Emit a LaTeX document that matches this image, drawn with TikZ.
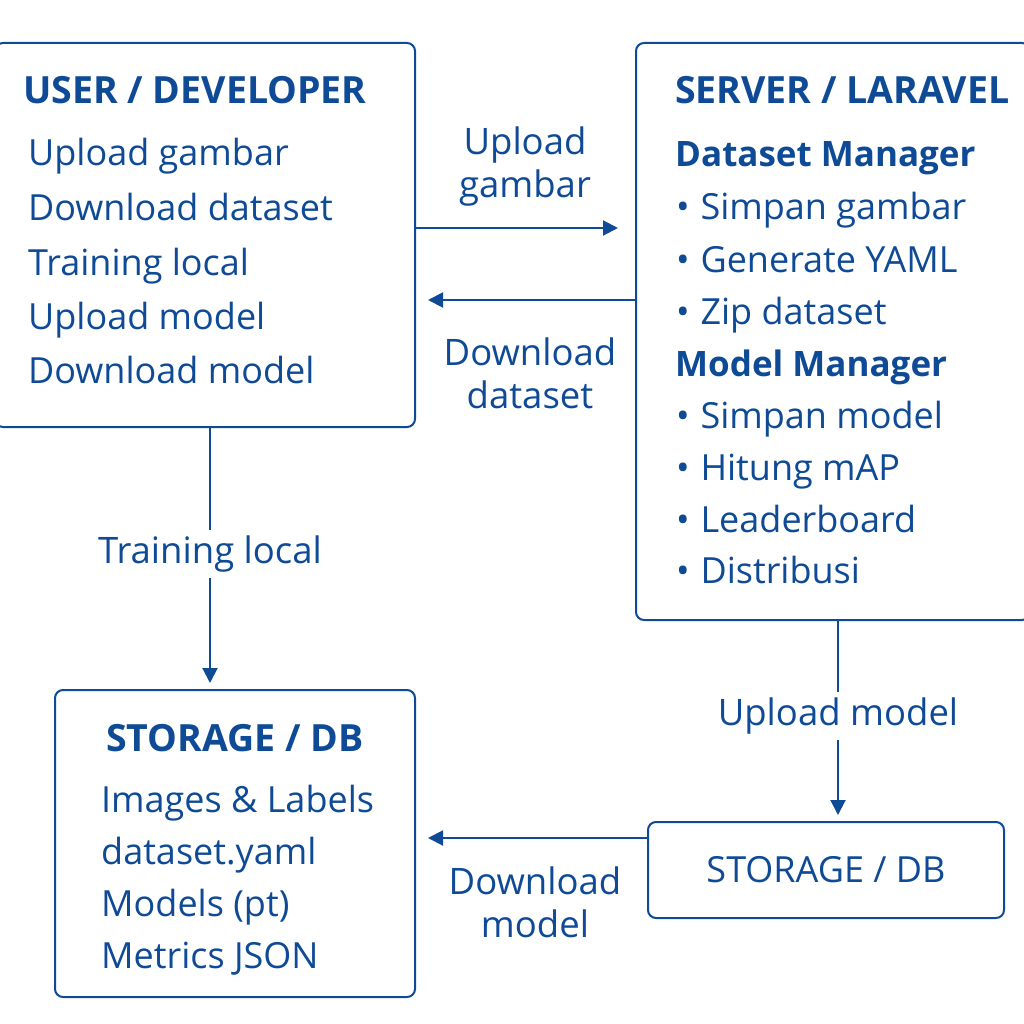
\documentclass[tikz,border=0pt]{standalone}
\usepackage{fontspec}
\setmainfont{Open Sans}
\usetikzlibrary{arrows.meta}
\definecolor{navy}{RGB}{14,74,150}

\begin{document}
\begin{tikzpicture}[x=1pt, y=-1pt,
	box/.style = {draw=navy, line width=2pt, rounded corners=8pt, inner sep=0pt},
	txt/.style = {text=navy, font=\fontsize{36}{40}\selectfont, inner sep=0pt, anchor=base west},
	ttl/.style = {txt, font=\fontsize{37.5}{40}\selectfont\bfseries},
	sub/.style = {txt, font=\fontsize{35}{40}\selectfont\bfseries},
	lbl/.style = {text=navy, font=\fontsize{36.5}{43}\selectfont, align=center, inner sep=2pt},
	flow/.style = {draw=navy, line width=2pt, -{Triangle[length=15pt, width=15pt]}}]
	\useasboundingbox (0, 0) rectangle (1024, 1024);

	% boxes
	\node[box, minimum width=420, minimum height=384] (user) at (205, 235) {};
	\node[box, minimum width=394, minimum height=577] (server) at (833, 331.5) {};
	\node[box, minimum width=360, minimum height=307] (store) at (235, 843.5) {};
	\node[box, minimum width=356, minimum height=96] (storeR) at (826, 870) {};

	% user / developer
	\node[ttl] (userT) at (23, 104) {USER / DEVELOPER};
	\node[txt] (u1) at (28, 166) {Upload gambar};
	\node[txt] (u2) at (28, 221) {Download dataset};
	\node[txt] (u3) at (28, 275) {Training local};
	\node[txt] (u4) at (28, 329) {Upload model};
	\node[txt] (u5) at (28, 383) {Download model};

	% server / laravel
	\node[ttl] (serverT) at (675, 104) {SERVER / LARAVEL};
	\node[sub] (dm) at (675, 167) {Dataset Manager};
	\node[txt] (d1) at (676, 220) {•\hspace{0.3em}Simpan gambar};
	\node[txt] (d2) at (676, 272) {•\hspace{0.3em}Generate YAML};
	\node[txt] (d3) at (676, 324) {•\hspace{0.3em}Zip dataset};
	\node[sub] (mm) at (675, 376) {Model Manager};
	\node[txt] (m1) at (676, 428) {•\hspace{0.3em}Simpan model};
	\node[txt] (m2) at (676, 480) {•\hspace{0.3em}Hitung mAP};
	\node[txt] (m3) at (676, 532) {•\hspace{0.3em}Leaderboard};
	\node[txt] (m4) at (676, 583) {•\hspace{0.3em}Distribusi};

	% storage / db
	\node[ttl, anchor=base] (storeT) at (235, 751) {STORAGE / DB};
	\node[txt] (s1) at (101, 812) {Images \& Labels};
	\node[txt] (s2) at (101, 864) {dataset.yaml};
	\node[txt] (s3) at (101, 916) {Models (pt)};
	\node[txt] (s4) at (101, 968) {Metrics JSON};
	\node[txt, anchor=center] (storeRT) at (storeR.center) {STORAGE / DB};

	% connectors
	\coordinate (upEnd) at (618, 228);
	\coordinate (dsEnd) at (428, 300);
	\coordinate (trEnd) at (210, 683);
	\coordinate (umEnd) at (838, 815);
	\coordinate (dmEnd) at (428, 838);
	\draw[flow] (user.east |- upEnd) -- (upEnd);
	\draw[flow] (server.west |- dsEnd) -- (dsEnd);
	\draw[flow] (user.south -| trEnd) -- node[fill=white, lbl, pos=0.495, inner ysep=6pt] (trL) {Training local} (trEnd);
	\draw[flow] (server.south -| umEnd) -- node[fill=white, lbl, pos=0.49, inner ysep=6pt] (umL) {Upload model} (umEnd);
	\draw[flow] (storeR.west |- dmEnd) -- (dmEnd);

	\node[lbl] (upL) at (525, 167) {Upload\\gambar};
	\node[lbl] (dsL) at (530, 373) {Download\\dataset};
	\node[lbl] (dmL) at (535, 902) {Download\\model};
\end{tikzpicture}
\end{document}
